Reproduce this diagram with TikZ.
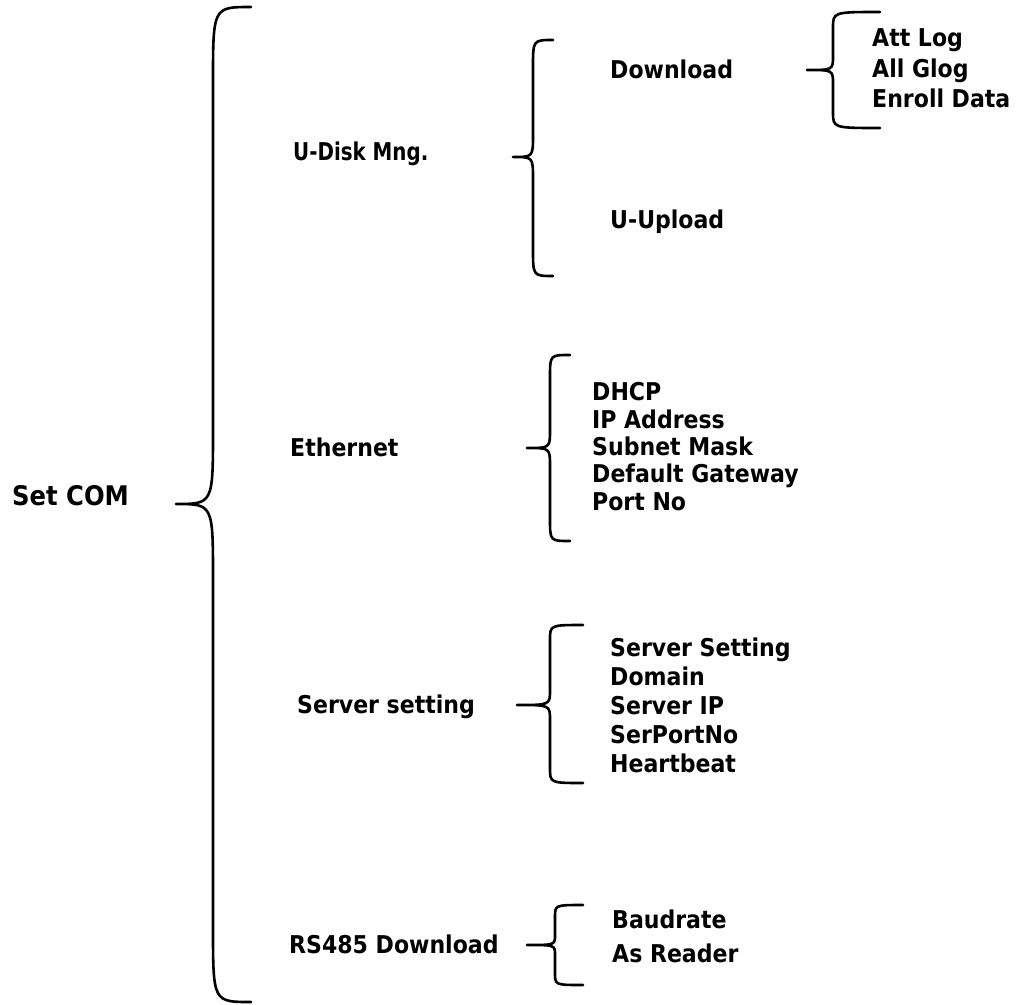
\documentclass[tikz,border=0pt]{standalone}
\usepackage{graphicx}
\usepackage{fontspec}
\setmainfont{DejaVu Sans Condensed}
\begin{document}
\begin{tikzpicture}[x=1pt,y=-1pt,
  bracestyle/.style={line width=2.6pt,line cap=round,line join=round},
  lbl/.style={anchor=base west,inner sep=0pt,font=\fontsize{24.5}{28}\selectfont\bfseries},
  big/.style={anchor=base west,inner sep=0pt,font=\fontsize{27}{30}\selectfont\bfseries}]
\useasboundingbox (0,0) rectangle (1017,1004);
% #1 end x, #2 vertical x, #3 tip x, #4 top y, #5 tip y, #6 bottom y, #7 end radius, #8 tip radius
\newcommand{\curlybrace}[8]{%
  \draw[bracestyle] (#1,#4) .. controls (#2,#4) .. (#2,{#4+#7}) -- (#2,{#5-#8})
    .. controls (#2,#5) .. (#3,#5) .. controls (#2,#5) .. (#2,{#5+#8})
    -- (#2,{#6-#7}) .. controls (#2,#6) .. (#1,#6);}
% braces
\curlybrace{251}{213}{176}{7}{504}{1002}{75}{75}
\curlybrace{553}{533}{513}{40}{157}{276}{27}{22}
\curlybrace{880}{833}{807}{12}{70}{128}{16}{14}
\curlybrace{570}{550}{527}{355}{448}{541}{22}{18}
\curlybrace{583}{550}{517}{625}{705}{783}{15}{15}
\curlybrace{583}{555}{527}{905}{945}{985}{12}{10}
% texts
\node[big] (setcom) at (12,505) {Set COM};
\node[lbl] (udisk) at (293,160) {\scalebox{0.9}[1]{U-Disk Mng.}};
\node[lbl] (download) at (610,78) {Download};
\node[lbl] (uupload) at (610,228) {U-Upload};
\node[lbl] (attlog) at (872,46) {Att Log};
\node[lbl] (allglog) at (872,77) {All Glog};
\node[lbl] (enroll) at (872,107) {Enroll Data};
\node[lbl] (ethernet) at (290,456) {Ethernet};
\node[lbl] (dhcp) at (592,400) {DHCP};
\node[lbl] (ipaddr) at (592,428) {IP Address};
\node[lbl] (subnet) at (592,455) {Subnet Mask};
\node[lbl] (gateway) at (592,482) {Default Gateway};
\node[lbl] (portno) at (592,510) {Port No};
\node[lbl] (srvsetting) at (297,713) {Server setting};
\node[lbl] (srvset) at (610,656) {Server Setting};
\node[lbl] (domain) at (610,685) {Domain};
\node[lbl] (serverip) at (610,714) {Server IP};
\node[lbl] (serport) at (610,743) {SerPortNo};
\node[lbl] (heartbeat) at (610,772) {Heartbeat};
\node[lbl] (rs485) at (289,953) {RS485 Download};
\node[lbl] (baud) at (612,928) {Baudrate};
\node[lbl] (asreader) at (612,962) {As Reader};
\end{tikzpicture}
\end{document}
